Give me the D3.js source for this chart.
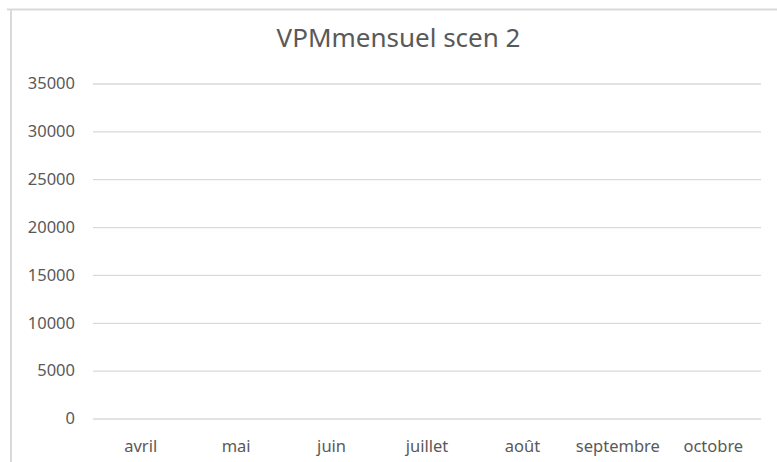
<!DOCTYPE html>
<html>
<head>
<meta charset="utf-8">
<script src="https://cdn.jsdelivr.net/npm/d3@7"></script>
<style>
  body { margin: 0; background: #fff; }
  svg { display: block; font-family: 'Noto Sans', 'Open Sans', sans-serif; }
</style>
</head>
<body>
<svg class="canvas" width="777" height="462"></svg>
<script>
'use strict';

// Chart data. The series has no visible values.
const title = 'VPMmensuel scen 2';
const months = ['avril', 'mai', 'juin', 'juillet', 'août', 'septembre', 'octobre'];
const vpmValues = [null, null, null, null, null, null, null];
const yTicks = [0, 5000, 10000, 15000, 20000, 25000, 30000, 35000];

const width = 777,
  height = 462;
const plot = { left: 93, right: 761, top: 83.5, bottom: 418.5 };

const svg = d3.select('.canvas');

// Frame of the chart area (top and left edges are all that show).
svg.append('line')
  .attr('x1', 7).attr('x2', width)
  .attr('y1', 9.5).attr('y2', 9.5)
  .attr('stroke', '#d9d9d9').attr('stroke-width', 2);
svg.append('line')
  .attr('x1', 11).attr('x2', 11)
  .attr('y1', 10).attr('y2', height)
  .attr('stroke', '#d9d9d9').attr('stroke-width', 2);

const xScale = d3.scaleBand().domain(months).range([plot.left, plot.right]);
const yScale = d3.scaleLinear().domain([0, 35000]).range([plot.bottom, plot.top]);

// Gridlines + y labels
const yAxis = d3.axisLeft(yScale)
  .tickValues(yTicks)
  .tickSize(-(plot.right - plot.left))
  .tickPadding(18)
  .tickFormat(d3.format('d'));

const gy = svg.append('g')
  .attr('class', 'y-axis')
  .attr('transform', `translate(${plot.left}, 0)`)
  .call(yAxis);
gy.select('.domain').remove();
gy.selectAll('.tick line').attr('stroke', '#d9d9d9').attr('stroke-width', 1.3);
gy.selectAll('.tick text')
  .attr('fill', '#595959')
  .attr('font-size', 16.5)
  .attr('font-family', "'Noto Sans', sans-serif");

// x labels
const xAxis = d3.axisBottom(xScale).tickSize(0).tickPadding(0);
const gx = svg.append('g')
  .attr('class', 'x-axis')
  .attr('transform', `translate(0, ${plot.bottom})`)
  .call(xAxis);
gx.select('.domain').remove();
gx.selectAll('.tick text')
  .attr('dy', null)
  .attr('y', 33)
  .attr('fill', '#595959')
  .attr('font-size', 16.5)
  .attr('font-family', "'Noto Sans', sans-serif");

// Series (empty in the source, so nothing is drawn)
const line = d3.line()
  .defined(d => d != null)
  .x((d, i) => xScale(months[i]) + xScale.bandwidth() / 2)
  .y(d => yScale(d));
svg.append('path')
  .datum(vpmValues)
  .attr('fill', 'none')
  .attr('stroke', '#4472c4')
  .attr('stroke-width', 2.5)
  .attr('d', line);

// Title, centred on the whole chart area rather than the plot
svg.append('text')
  .attr('x', 398.5)
  .attr('y', 47)
  .attr('text-anchor', 'middle')
  .attr('fill', '#595959')
  .attr('font-size', 26)
  .text(title);
</script>
</body>
</html>
